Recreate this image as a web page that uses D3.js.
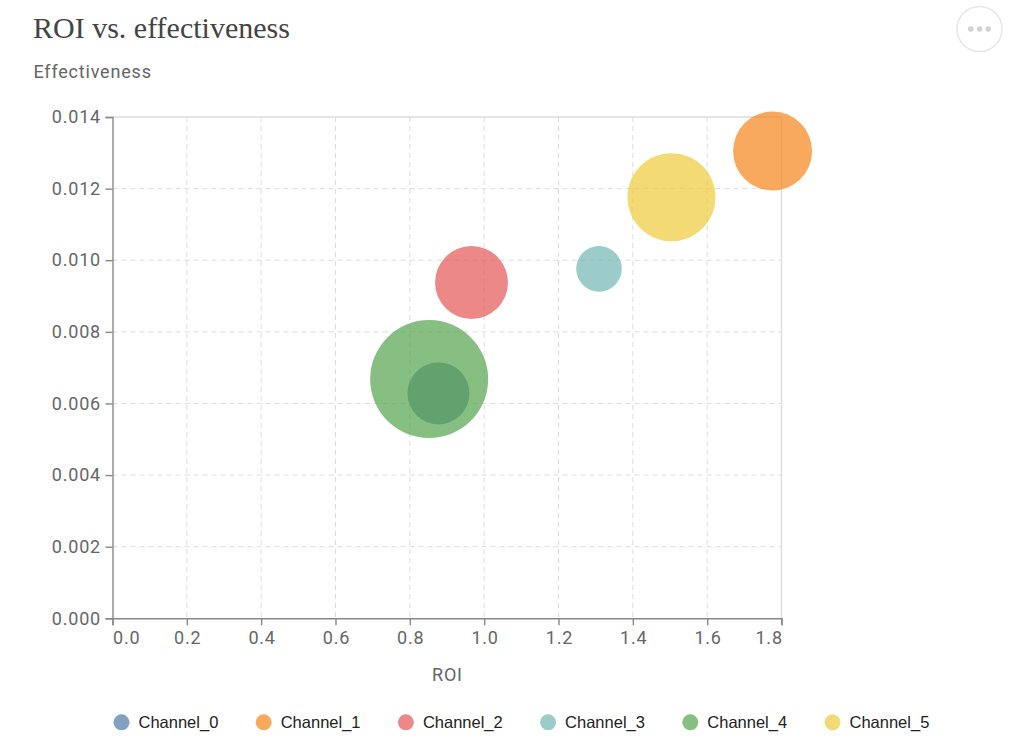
<!DOCTYPE html>
<html>
<head>
<meta charset="utf-8">
<script src="https://cdn.jsdelivr.net/npm/d3@7"></script>
<style>
  html, body { margin: 0; padding: 0; background: #fff; }
  svg { display: block; }
</style>
</head>
<body>
<svg id="chart" width="1024" height="753"></svg>
<script>
// ---- data ----
const channels = ["Channel_0", "Channel_1", "Channel_2", "Channel_3", "Channel_4", "Channel_5"];
const colors = ["#4c78a8", "#f58518", "#e45756", "#72b7b2", "#54a24b", "#eeca3b"];
const pointChannel = ["Channel_0", "Channel_1", "Channel_2", "Channel_3", "Channel_4", "Channel_5"];
const roi = [0.877, 1.776, 0.966, 1.309, 0.852, 1.504];
const effectiveness = [0.00628, 0.01305, 0.00938, 0.00976, 0.00668, 0.01176];
const spend = [96, 156, 133, 52, 348, 194];
const xTicks = [0, 0.2, 0.4, 0.6, 0.8, 1.0, 1.2, 1.4, 1.6, 1.8];
const yTicks = [0, 0.002, 0.004, 0.006, 0.008, 0.010, 0.012, 0.014];

(function () {
// ---- layout ----
const svg = d3.select("#chart");
const pLeft = 112.5, pRight = 781.5, pTop = 117, pBottom = 618.3;
const markOpacity = 0.7;

const x = d3.scaleLinear().domain([0, 1.8]).range([pLeft, pRight]);
const y = d3.scaleLinear().domain([0, 0.014]).range([pBottom, pTop]);
const r = d3.scaleSqrt().domain([0, d3.max(spend)]).range([0, 59]);
const color = d3.scaleOrdinal().domain(channels).range(colors);

const axFont = "Roboto, sans-serif";
const axSize = 18, axSpacing = 0.8;

// title
svg.append("text").attr("x", 33).attr("y", 37.5)
  .attr("font-family", "'Liberation Serif', 'Times New Roman', serif")
  .attr("font-size", 30).attr("fill", "#444")
  .text("ROI vs. effectiveness");

// more button
const btn = svg.append("g");
btn.append("circle").attr("cx", 979.5).attr("cy", 29).attr("r", 22.5)
  .attr("fill", "#fff").attr("stroke", "#e6e6e6").attr("stroke-width", 1.5);
[-8.7, 0, 8.7].forEach(dx => {
  btn.append("circle").attr("cx", 979.5 + dx).attr("cy", 29).attr("r", 2.8).attr("fill", "#d2d2d2");
});

// y axis title
svg.append("text").attr("x", 33.5).attr("y", 78.3)
  .attr("font-family", axFont).attr("font-size", axSize).attr("letter-spacing", axSpacing).attr("fill", "#666")
  .text("Effectiveness");

// grid
const grid = svg.append("g");
grid.selectAll(".gx").data(xTicks.slice(1, -1)).join("line")
  .attr("x1", d => x(d)).attr("x2", d => x(d)).attr("y1", pTop).attr("y2", pBottom)
  .attr("stroke", "#dcdcdc").attr("stroke-dasharray", "5,4").attr("stroke-width", 1);
grid.selectAll(".gy").data(yTicks.slice(1, -1)).join("line")
  .attr("y1", d => y(d)).attr("y2", d => y(d)).attr("x1", pLeft).attr("x2", pRight)
  .attr("stroke", "#dcdcdc").attr("stroke-dasharray", "5,4").attr("stroke-width", 1);
// top & right borders
grid.append("line").attr("x1", pLeft).attr("x2", pRight).attr("y1", pTop).attr("y2", pTop)
  .attr("stroke", "#dcdcdc").attr("stroke-width", 1.3);
grid.append("line").attr("x1", pRight).attr("x2", pRight).attr("y1", pTop).attr("y2", pBottom)
  .attr("stroke", "#dcdcdc").attr("stroke-width", 1.3);

// bubbles
const pts = roi.map((v, i) => ({ x: v, y: effectiveness[i], s: spend[i], c: pointChannel[i] }));
svg.append("g").selectAll("circle").data(pts).join("circle")
  .attr("cx", d => x(d.x)).attr("cy", d => y(d.y)).attr("r", d => r(d.s))
  .attr("fill", d => color(d.c)).attr("fill-opacity", markOpacity);

// axes
const gx = svg.append("g").attr("transform", `translate(0,${pBottom})`)
  .call(d3.axisBottom(x).tickValues(xTicks).tickFormat(d3.format(".1f")).tickSize(7).tickPadding(6));
const gy = svg.append("g").attr("transform", `translate(${pLeft},0)`)
  .call(d3.axisLeft(y).tickValues(yTicks).tickFormat(d3.format(".3f")).tickSize(7).tickPadding(4.5));
[gx, gy].forEach(g => {
  g.select(".domain").attr("stroke", "#888").attr("stroke-width", 1.4);
  g.selectAll(".tick line").attr("stroke", "#888").attr("stroke-width", 1.4);
  g.selectAll(".tick text").attr("fill", "#666").attr("font-family", axFont)
    .attr("font-size", axSize).attr("letter-spacing", axSpacing);
});
gx.selectAll(".tick text").attr("dy", "0.71em").attr("dx", axSpacing / 2);
// flush first/last x labels
gx.selectAll(".tick text").filter((d, i) => i === 0).attr("text-anchor", "start").attr("dx", 0);
gx.selectAll(".tick text").filter((d, i) => i === xTicks.length - 1).attr("text-anchor", "end").attr("dx", axSpacing);

// x axis title
svg.append("text").attr("x", (pLeft + pRight) / 2 + axSpacing / 2).attr("y", 680.5)
  .attr("text-anchor", "middle").attr("font-family", axFont).attr("font-size", axSize)
  .attr("letter-spacing", axSpacing).attr("fill", "#666")
  .text("ROI");

// legend
const lg = svg.append("g").selectAll("g").data(channels).join("g")
  .attr("transform", (d, i) => `translate(${121.5 + i * 142.2},722.3)`);
lg.append("circle").attr("r", 8).attr("fill", d => color(d)).attr("fill-opacity", markOpacity);
lg.append("text").attr("x", 17).attr("y", 5.8)
  .attr("font-family", "'Liberation Sans', Arial, sans-serif").attr("font-size", 16.5).attr("fill", "#222")
  .text(d => d);
})();
</script>
</body>
</html>
